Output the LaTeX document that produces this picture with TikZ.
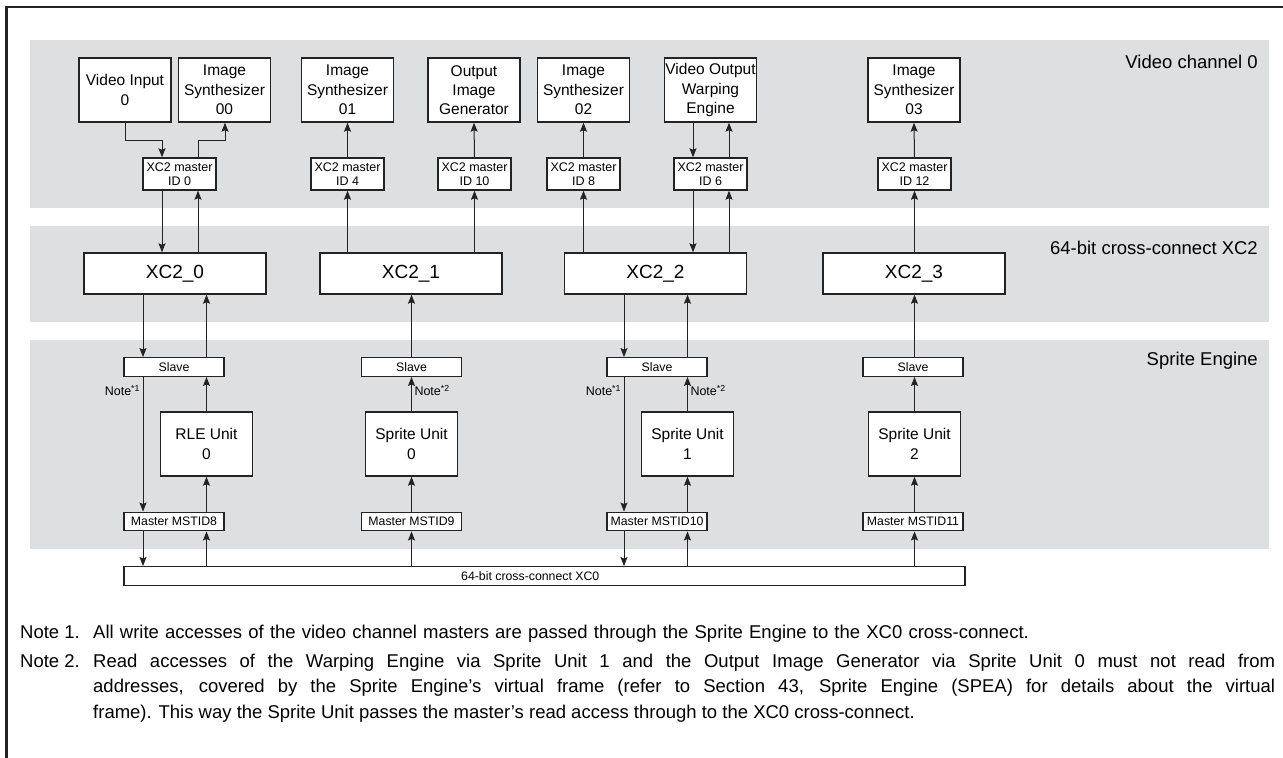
\documentclass[tikz,border=0pt]{standalone}
\usepackage{fontspec}
\setmainfont{Liberation Sans}
\usetikzlibrary{arrows.meta,calc,positioning}
\definecolor{bandgray}{RGB}{222,223,225}
\definecolor{linegray}{RGB}{35,35,35}

\begin{document}
\begin{tikzpicture}[x=1pt,y=-1pt,>={Stealth[length=9pt,width=7pt,inset=1.5pt]},
  band/.style={fill=bandgray,draw=none},
  unitbox/.style={draw=linegray,line width=1.4pt,fill=white,inner sep=0pt,align=center,
    minimum width=92pt,minimum height=64pt,font=\fontsize{15.5}{19.3}\selectfont},
  idbox/.style={draw=linegray,line width=1.4pt,fill=white,inner sep=0pt,align=center,
    minimum width=73pt,minimum height=32pt,font=\fontsize{12.5}{13.5}\selectfont},
  xcbox/.style={draw=linegray,line width=1.4pt,fill=white,inner sep=0pt,
    minimum width=182pt,minimum height=41pt,font=\fontsize{19}{22}\selectfont},
  portbox/.style={draw=linegray,line width=1.4pt,fill=white,inner sep=0pt,
    minimum width=100pt,minimum height=18.5pt,font=\fontsize{12.3}{14}\selectfont},
  link/.style={->,draw=linegray,line width=1pt},
  notel/.style={font=\fontsize{12.5}{14}\selectfont,inner sep=2.5pt},
  bandlabel/.style={anchor=east,inner sep=0pt,font=\fontsize{18.5}{22}\selectfont},
  notetext/.style={anchor=base west,inner sep=0pt,font=\fontsize{18.5}{25.5}\selectfont}]
  \useasboundingbox (0,0) rectangle (1283,758);
  \draw[line width=2.2pt,linegray] (6.5,758) -- (6.5,7) -- (1283,7);

  \fill[band] (30,40) rectangle (1269,208);
  \fill[band] (30,226) rectangle (1269,322);
  \fill[band] (30,340) rectangle (1269,549);
  \node[bandlabel] at (1258,62) {Video channel 0};
  \node[bandlabel] at (1258,248) {64-bit cross-connect XC2};
  \node[bandlabel] at (1258,361) {Sprite Engine};

  % video channel 0
  \node[unitbox] (vin)  at (125,90)   {Video Input\\0};
  \node[unitbox] (is00) at (224.5,90) {Image\\Synthesizer\\00};
  \node[unitbox] (is01) at (347.5,90) {Image\\Synthesizer\\01};
  \node[unitbox] (oig)  at (474,90)   {Output\\Image\\Generator};
  \node[unitbox] (is02) at (583.5,90) {Image\\Synthesizer\\02};
  \node[unitbox] (vowe) at (710.5,90) {Video Output\\Warping\\Engine};
  \node[unitbox] (is03) at (914,90)   {Image\\Synthesizer\\03};

  \node[idbox] (m0)  at (179.5,174) {XC2 master\\ID 0};
  \node[idbox] (m4)  at (347.5,174) {XC2 master\\ID 4};
  \node[idbox] (m10) at (474.5,174) {XC2 master\\ID 10};
  \node[idbox] (m8)  at (583.5,174) {XC2 master\\ID 8};
  \node[idbox] (m6)  at (710.5,174) {XC2 master\\ID 6};
  \node[idbox] (m12) at (914.5,174) {XC2 master\\ID 12};

  % cross-connect XC2
  \node[xcbox] (xc0) at (175,273.5)   {XC2\_0};
  \node[xcbox] (xc1) at (411,273.5)   {XC2\_1};
  \node[xcbox] (xc2) at (655.5,273.5) {XC2\_2};
  \node[xcbox] (xc3) at (914,273.5)   {XC2\_3};

  % sprite engine
  \node[portbox] (s0) at (174,367)   {Slave};
  \node[portbox] (s1) at (411.5,367) {Slave};
  \node[portbox] (s2) at (657,367)   {Slave};
  \node[portbox] (s3) at (913,367)   {Slave};

  \node[unitbox] (rle) at (206.5,444) {RLE Unit\\0};
  \node[unitbox] (su0) at (411.5,444) {Sprite Unit\\0};
  \node[unitbox] (su1) at (687.5,444) {Sprite Unit\\1};
  \node[unitbox] (su2) at (914.5,444) {Sprite Unit\\2};

  \node[portbox] (ms8)  at (174,521.5)   {Master MSTID8};
  \node[portbox] (ms9)  at (411.5,521.5) {Master MSTID9};
  \node[portbox] (ms10) at (657,521.5)   {Master MSTID10};
  \node[portbox] (ms11) at (913,521.5)   {Master MSTID11};

  \node[portbox,minimum width=841pt] (bar) at (544.5,576) {};
  \node[anchor=west,inner sep=0pt,font=\fontsize{12.3}{14}\selectfont] (barlabel) at (461,576) {64-bit cross-connect XC0};

  \draw[link] (vin.south) |- (162,140) -- (m0.north -| 162,0);
  \draw[link] (m0.north -| 198,0) |- (225,140) -- (is00.south -| 225,0);
  \draw[link] (m0.south -| 162,0) -- (xc0.north -| 162,0);
  \draw[link] (xc0.north -| 198,0) -- (m0.south -| 198,0);
  \draw[link] (xc1.north -| m4) -- (m4.south);
  \draw[link] (m4.north) -- (is01.south);
  \draw[link] (xc1.north -| m10) -- (m10.south);
  \draw[link] (m10.north) -- (oig.south);
  \draw[link] (xc2.north -| m8) -- (m8.south);
  \draw[link] (m8.north) -- (is02.south);
  \draw[link] (vowe.south -| 693,0) -- (m6.north -| 693,0);
  \draw[link] (m6.north -| 729,0) -- (vowe.south -| 729,0);
  \draw[link] (m6.south -| 693,0) -- (xc2.north -| 693,0);
  \draw[link] (xc2.north -| 729,0) -- (m6.south -| 729,0);
  \draw[link] (xc3.north -| m12) -- (m12.south);
  \draw[link] (m12.north) -- (is03.south);

  \draw[link] (xc0.south -| 143,0) -- (s0.north -| 143,0);
  \draw[link] (s0.north -| rle) -- (xc0.south -| rle);
  \draw[link] (s0.south -| 143,0) -- node[notel,pos=0.1,left] {Note\textsuperscript{*1}} (ms8.north -| 143,0);
  \draw[link] (rle.north) -- (s0.south -| rle);
  \draw[link] (ms8.north -| rle) -- (rle.south);
  \draw[link] (ms8.south -| 143,0) -- (bar.north -| 143,0);
  \draw[link] (bar.north -| rle) -- (ms8.south -| rle);

  \draw[link] (s1.north -| su0) -- (xc1.south -| su0);
  \draw[link] (su0.north) -- node[notel,pos=0.6,right] {Note\textsuperscript{*2}} (s1.south -| su0);
  \draw[link] (ms9.north -| su0) -- (su0.south);
  \draw[link] (bar.north -| su0) -- (ms9.south -| su0);

  \draw[link] (xc2.south -| 624,0) -- (s2.north -| 624,0);
  \draw[link] (s2.north -| su1) -- (xc2.south -| su1);
  \draw[link] (s2.south -| 624,0) -- node[notel,pos=0.1,left] {Note\textsuperscript{*1}} (ms10.north -| 624,0);
  \draw[link] (su1.north) -- node[notel,pos=0.6,right] {Note\textsuperscript{*2}} (s2.south -| su1);
  \draw[link] (ms10.north -| su1) -- (su1.south);
  \draw[link] (ms10.south -| 624,0) -- (bar.north -| 624,0);
  \draw[link] (bar.north -| su1) -- (ms10.south -| su1);

  \draw[link] (s3.north -| su2) -- (xc3.south -| su2);
  \draw[link] (su2.north) -- (s3.south -| su2);
  \draw[link] (ms11.north -| su2) -- (su2.south);
  \draw[link] (bar.north -| su2) -- (ms11.south -| su2);

  % notes
  \node[notetext] (n1) at (20,638) {Note 1.};
  \node[notetext,text width=1182pt] (n1text) at (93,638)
    {All write accesses of the video channel masters are passed through the Sprite Engine to the XC0 cross-connect.};
  \node[notetext] (n2) at (20,667) {Note 2.};
  \node[notetext,text width=1182pt,align=justify] (n2text) at (93,667)
    {Read accesses of the Warping Engine via Sprite Unit 1 and the Output Image Generator via Sprite Unit 0 must not read from\linebreak
     addresses, covered by the Sprite Engine’s virtual frame (refer to Section 43, Sprite Engine (SPEA) for details about the virtual\linebreak
     frame). This way the Sprite Unit passes the master’s read access through to the XC0 cross-connect.};
\end{tikzpicture}
\end{document}
